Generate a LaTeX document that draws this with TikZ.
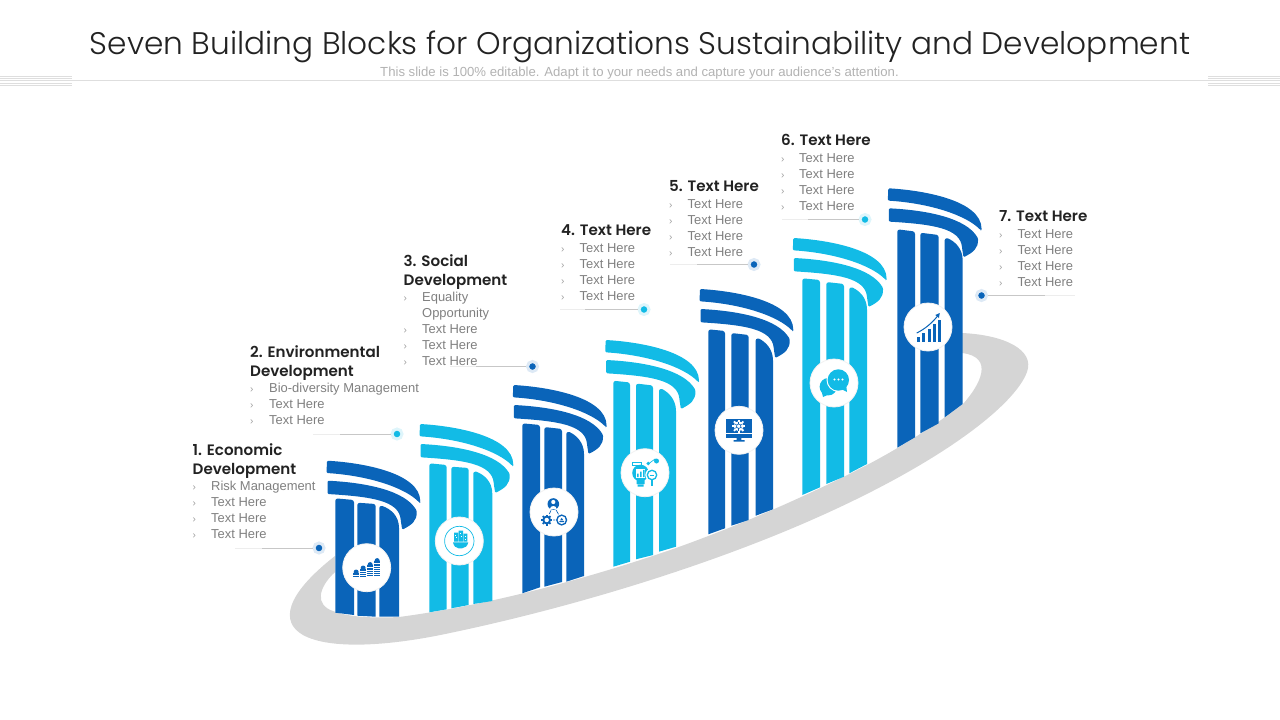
\documentclass[tikz,border=0pt]{standalone}
\usepackage{fontspec}
\setmainfont{Liberation Sans}
\newfontfamily\tfont{Poppins Light}
\newfontfamily\hfont{Poppins SemiBold}
\definecolor{blu}{HTML}{0A64B9}
\definecolor{cya}{HTML}{12BBE6}
\definecolor{gry}{HTML}{D5D5D5}
\definecolor{rulec}{HTML}{DEDEDE}
\definecolor{headc}{HTML}{222222}
\definecolor{bodyc}{HTML}{7F7F7F}
\tikzset{
  titletxt/.style={inner sep=0pt,text=headc,font=\tfont\fontsize{31.2}{36}\selectfont},
  subtxt/.style={inner sep=0pt,text=black!30,font=\fontsize{13.15}{14}\selectfont},
  headtxt/.style={inner sep=0pt,anchor=north west,align=left,text=headc,font=\hfont\fontsize{15.1}{19}\selectfont},
  bodytxt/.style={inner sep=0pt,anchor=base west,text=bodyc,font=\fontsize{12.95}{16}\selectfont},
  bultxt/.style={inner sep=0pt,anchor=base west,text=black!38,font=\fontsize{10}{16}\selectfont},
  dotnode/.style={circle,inner sep=0pt,minimum size=10pt,draw=#1!14,line width=3pt,fill=#1},
  leader/.style={draw=black!22,line width=.6pt},
  leaderfade/.style={draw=black!7,line width=.6pt},
  iconbg/.style={circle,inner sep=0pt,minimum size=48pt,fill=white,draw=black!5,line width=.8pt}
}
\newcommand{\capit}[3]{%
  \begin{scope}[shift={(#1,#2)}]
  \fill[#3,rounded corners=1.2pt] (0,0) .. controls (35,2) and (93,12) .. (93.3,41.7) -- (92.5,42)
     .. controls (78,27) and (42,15) .. (-.5,12.3) -- cycle;
  \fill[#3,rounded corners=1.2pt] (.5,20) .. controls (40,22) and (78,30) .. (89.7,50)
     .. controls (90,60) and (85,64) .. (75.2,69) -- (73.8,60)
     .. controls (72,40) and (45,36) .. (.5,33.3) -- cycle;
  \end{scope}}
% strip: colour, xa, xb, ytl, ytr, ybl, ybr
\newcommand{\strip}[7]{\fill[#1] (#2,#6) [rounded corners=2.5pt] -- (#2,#4) -- (#3,#5) [sharp corners] -- (#3,#7) -- cycle;}
\newcommand{\stripc}[6]{\fill[#1] (#2,#6) [rounded corners=2pt] -- (#2,#4) [sharp corners] -- (#2+3,#4) .. controls (#3-8,#4+3) and (#3,#4+10) .. (#3,#4+22) -- (#3,#5) -- cycle;}
\newcommand{\gearic}[4]{%
  \foreach \a in {0,45,...,315}{\fill[#4,rotate around={\a:(#1,#2)}] (#1-.9,#2-#3-1.1) rectangle (#1+.9,#2);}
  \fill[#4] (#1,#2) circle (#3);
  \fill[white] (#1,#2) circle (#3*.5);}
\newcommand{\stack}[4]{%
  \fill[blu] (#1,#2) rectangle (#1+5.7,#3);
  \foreach \k in {#4}{\fill[white] (#1,\k) rectangle (#1+5.7,\k+.6);}
  \fill[blu] (#1+2.85,#3-.7) circle (2.5);}
\begin{document}
\begin{tikzpicture}[x=1pt,y=-1pt]
\useasboundingbox (0,0) rectangle (1280,720);
% header
\foreach \yy in {76,78.3,80.7,82.9,85}{
  \draw[rulec,line width=.7pt] (0,\yy) -- (72,\yy);
  \draw[rulec,line width=.7pt] (1208,\yy) -- (1280,\yy);}
\draw[rulec,line width=.8pt] (72,80.7) -- (1208,80.7);
\node[titletxt] (title) at (640,47) {Seven Building Blocks for Organizations Sustainability and Development};
\node[subtxt] (sub) at (639.5,73.3) {This slide is 100\% editable. Adapt it to your needs and capture your audience's attention.};
% crescent
\fill[gry] (962,333) .. controls (1005,335) and (1035,350) .. (1027,372)
  .. controls (1015,405) and (940,465) .. (800,525)
  .. controls (690,572) and (560,610) .. (450,633)
  .. controls (390,646) and (330,650) .. (303,635)
  .. controls (280,622) and (285,595) .. (335,556)
  -- (335,572) .. controls (318,588) and (315,605) .. (333,611)
  .. controls (350,618) and (380,618) .. (399,617)
  .. controls (490,605) and (590,578) .. (676,548)
  .. controls (740,525) and (805,497) .. (867,465)
  .. controls (905,445) and (935,425) .. (963,404)
  .. controls (980,385) and (995,357) .. (962,353) -- cycle;
% capitals
\capit{327}{460.7}{blu}\capit{420}{424}{cya}\capit{513.3}{385}{blu}\capit{605.7}{340}{cya}\capit{700}{289}{blu}\capit{793.3}{238}{cya}\capit{888.3}{188.3}{blu}
% pillars
\strip{blu}{335.3}{354}{498.3}{500}{612.7}{615}\strip{blu}{357.3}{375.7}{502.7}{504}{615.7}{616.7}\stripc{blu}{379.3}{399}{506}{616.7}{616.7}
\strip{cya}{429.3}{446.7}{463.3}{465}{612.3}{609.3}\strip{cya}{451.3}{468.7}{466.7}{468}{608.3}{605}\stripc{cya}{473.3}{492.3}{471.7}{601}{604}
\strip{blu}{522.3}{540}{423.3}{425}{593.3}{587.3}\strip{blu}{544.3}{562}{427}{429}{586.7}{582}\stripc{blu}{566.3}{584}{432}{576}{581.7}
\strip{cya}{613.3}{630}{380.7}{382.5}{566.7}{561.7}\strip{cya}{636}{653}{383.5}{385.5}{559.3}{555}\stripc{cya}{659}{676}{389}{546.7}{551.7}
\strip{blu}{708.3}{725}{329.3}{331}{534.3}{528.3}\strip{blu}{731.3}{748.7}{333}{335}{525.7}{520}\stripc{blu}{755.7}{773}{338.5}{509.3}{515.7}
\strip{cya}{802.3}{820}{278.3}{280}{495}{487.3}\strip{cya}{826.3}{844}{282}{284}{484}{476.7}\stripc{cya}{849.3}{867}{287.5}{464}{473.3}
\strip{blu}{897.3}{915}{229.3}{231.5}{447.7}{437.3}\strip{blu}{920.3}{938.7}{232.7}{235}{433.3}{423.3}\stripc{blu}{944.7}{962.7}{238.3}{404}{417.3}
% icon discs
\node[iconbg] (ic1) at (366.7,567.7) {};
\node[iconbg] (ic2) at (459.3,541) {};
\node[iconbg] (ic3) at (554,512) {};
\node[iconbg] (ic4) at (645,472.7) {};
\node[iconbg] (ic5) at (739,430.3) {};
\node[iconbg] (ic6) at (834,383) {};
\node[iconbg] (ic7) at (928,327) {};
% icon 1
\stack{353.3}{577.2}{572.7}{574.8}
\stack{360.3}{577.2}{568.7}{570.7,573,575.2}
\stack{367.3}{577.2}{565.3}{567.3,569.5,571.7,573.9,576}
\stack{374.3}{577.2}{561.3}{563.3,565.5,567.7,569.9,572.1,574.3,576.2}
% icon 2
\draw[cya,line width=.7pt] (ic2) circle (14.7);
\fill[cya] (454,532.5) rectangle (458,541.5) (458.7,530.5) rectangle (463,541.5) (463.7,533.5) rectangle (467.3,541.5);
\foreach \wx/\wy in {455/534.5,456.4/537,459.7/533,461.3/536,464.5/535.5,465.3/538.5}{\fill[white] (\wx,\wy) rectangle (\wx+1,\wy+1.2);}
\fill[cya] (453,542.3) -- (468.3,542.3) .. controls (467.5,546) and (465,548.3) .. (462,548.3) -- (458.5,548.3) .. controls (456,548.3) and (453.8,546) .. (453,542.3) -- cycle;
% icon 3
\draw[blu,line width=.7pt] (553.3,505) -- (546.7,520) -- (561.7,520) -- cycle;
\fill[white] (553.3,504) circle (6.8);
\fill[blu] (553.3,504) circle (5.8);
\fill[white] (553.3,502) circle (2.1) (549.9,509) .. controls (550.2,505) and (556.4,505) .. (556.7,509) -- cycle;
\fill[white] (546.7,520) circle (6.5) (561.7,520) circle (6.5);
\gearic{546.7}{520}{4.4}{blu}
\fill[blu] (561.7,520) circle (5.6);
\fill[white] (561.7,520) circle (4);
\fill[blu] (559.4,521.2) rectangle (564,522.2) (561.7,517.8) -- (560,520.4) -- (563.4,520.4) -- cycle;
% icon 4
\fill[cya] (631.5,461.5) rectangle (642,466);
\foreach \yy in {462.8,464.4}{\fill[white] (633,\yy) rectangle (640.5,\yy+.6);}
\fill[cya] (640.5,473) circle (8.3);
\fill[cya] (636.5,478) rectangle (644.5,484) (637.5,484.5) rectangle (643.5,486.5);
\fill[white] (636,469) rectangle (645,477.5);
\fill[cya] (637,473.5) rectangle (638.6,477) (640,471.5) rectangle (641.6,477) (643,469.8) rectangle (644.6,477);
\draw[cya,line width=.7pt] (648.3,464) -- (655,459) -- (658,461.5);
\fill[cya] (648.3,463.5) circle (1.9) (656.5,461) circle (2.5);
\fill[white] (652,475) circle (6.7);
\draw[cya,line width=1.3pt] (652,475) circle (4.7);
\draw[cya,line width=.9pt] (649.6,475) -- (654.4,475);
\draw[cya,line width=1.6pt] (652,480) -- (652,486);
% icon 5
\fill[blu] (726,419.3) rectangle (751.7,437.5);
\fill[white] (726,433) rectangle (751.7,433.7);
\fill[blu] (736.5,437.5) rectangle (741.3,440) (733.5,440) rectangle (744.5,441.5);
\foreach \a in {0,45,...,315}{\fill[white,rotate around={\a:(738.7,426.2)}] (737.8,419.5) rectangle (739.6,426.2);}
\fill[white] (738.7,426.2) circle (5);
\draw[blu,line width=.6pt] (738.7,426.2) circle (2.2);
\foreach \a in {0,60,...,300}{\draw[blu,line width=.5pt,rotate around={\a:(738.7,426.2)}] (738.7,424) -- (738.7,421.8);}
% icon 6
\fill[cya] (828.3,386.7) circle (8.7);
\fill[cya] (821,389) -- (823,397) -- (831,393.5) -- cycle;
\fill[white] (838.3,380) circle (11.8);
\fill[cya] (838.3,380) circle (10.7);
\fill[cya] (841,389) -- (847,392) -- (846,384) -- cycle;
\foreach \xx in {834.5,838.5,842.5}{\fill[white] (\xx,379.5) circle (1.1);}
% icon 7
\foreach \xa/\ya in {916.7/337,922.3/333,927.7/328.7,932.7/324.3,937.7/320.3}{\fill[blu] (\xa,\ya) rectangle (\xa+3.1,342);}
\draw[blu,line width=1pt] (916.7,333) .. controls (925,329) and (932,323) .. (938,315.5);
\fill[blu] (939.8,313) -- (935.3,315) -- (938.9,318) -- cycle;
% callouts
\node[dotnode=blu] (d1) at (319,548) {};
\coordinate (e1) at (262,548);\coordinate (f1) at (235,548);
\draw[leader] (d1) -- (e1);\draw[leaderfade] (e1) -- (f1);
\node[dotnode=cya] (d2) at (397,434) {};
\coordinate (e2) at (340,434);\coordinate (f2) at (313,434);
\draw[leader] (d2) -- (e2);\draw[leaderfade] (e2) -- (f2);
\node[dotnode=blu] (d3) at (532.5,366.5) {};
\coordinate (e3) at (476,366.5);\coordinate (f3) at (450,366.5);
\draw[leader] (d3) -- (e3);\draw[leaderfade] (e3) -- (f3);
\node[dotnode=cya] (d4) at (644,309.5) {};
\coordinate (e4) at (585,309.5);\coordinate (f4) at (560,309.5);
\draw[leader] (d4) -- (e4);\draw[leaderfade] (e4) -- (f4);
\node[dotnode=blu] (d5) at (754,264.5) {};
\coordinate (e5) at (697,264.5);\coordinate (f5) at (670,264.5);
\draw[leader] (d5) -- (e5);\draw[leaderfade] (e5) -- (f5);
\node[dotnode=cya] (d6) at (865,219.5) {};
\coordinate (e6) at (808,219.5);\coordinate (f6) at (782,219.5);
\draw[leader] (d6) -- (e6);\draw[leaderfade] (e6) -- (f6);
\node[dotnode=blu] (d7) at (981.5,295.5) {};
\coordinate (e7) at (1045,295.5);\coordinate (f7) at (1075,295.5);
\draw[leader] (d7) -- (e7);\draw[leaderfade] (e7) -- (f7);
% heading texts
\node[headtxt] (h1) at (192.5,443) {1. Economic\\Development};
\node[headtxt] (h2) at (250,345) {2. Environmental\\Development};
\node[headtxt] (h3) at (403.5,254) {3. Social\\Development};
\node[headtxt] (h4) at (561,224) {4. Text Here};
\node[headtxt] (h5) at (669,180) {5. Text Here};
\node[headtxt] (h6) at (781,134) {6. Text Here};
\node[headtxt] (h7) at (999,210) {7. Text Here};
% bullets: arrow x, text x, list of base y / text
\foreach \n/\bx/\tx/\by/\txt in {
 a/192.5/211/490/Risk Management,b/192.5/211/506/Text Here,c/192.5/211/522/Text Here,d/192.5/211/538/Text Here,
 e/250/269/392/Bio-diversity Management,f/250/269/408/Text Here,g/250/269/424/Text Here,
 h/403.5/422/301/Equality,j/403.5/422/333/Text Here,k/403.5/422/349/Text Here,l/403.5/422/365/Text Here,
 m/561/579.5/252/Text Here,o/561/579.5/268/Text Here,p/561/579.5/284/Text Here,q/561/579.5/300/Text Here,
 r/669/687.5/208/Text Here,s/669/687.5/224/Text Here,t/669/687.5/240/Text Here,u/669/687.5/256/Text Here,
 v/781/799/162/Text Here,w/781/799/178/Text Here,x/781/799/194/Text Here,y/781/799/210/Text Here,
 A/999/1017.5/238/Text Here,B/999/1017.5/254/Text Here,C/999/1017.5/270/Text Here,D/999/1017.5/286/Text Here}{
  \node[bultxt] (bu\n) at (\bx,\by) {›};
  \node[bodytxt] (tx\n) at (\tx,\by) {\txt};
}
\node[bodytxt] (txi) at (422,317) {Opportunity};
\end{tikzpicture}
\end{document}
